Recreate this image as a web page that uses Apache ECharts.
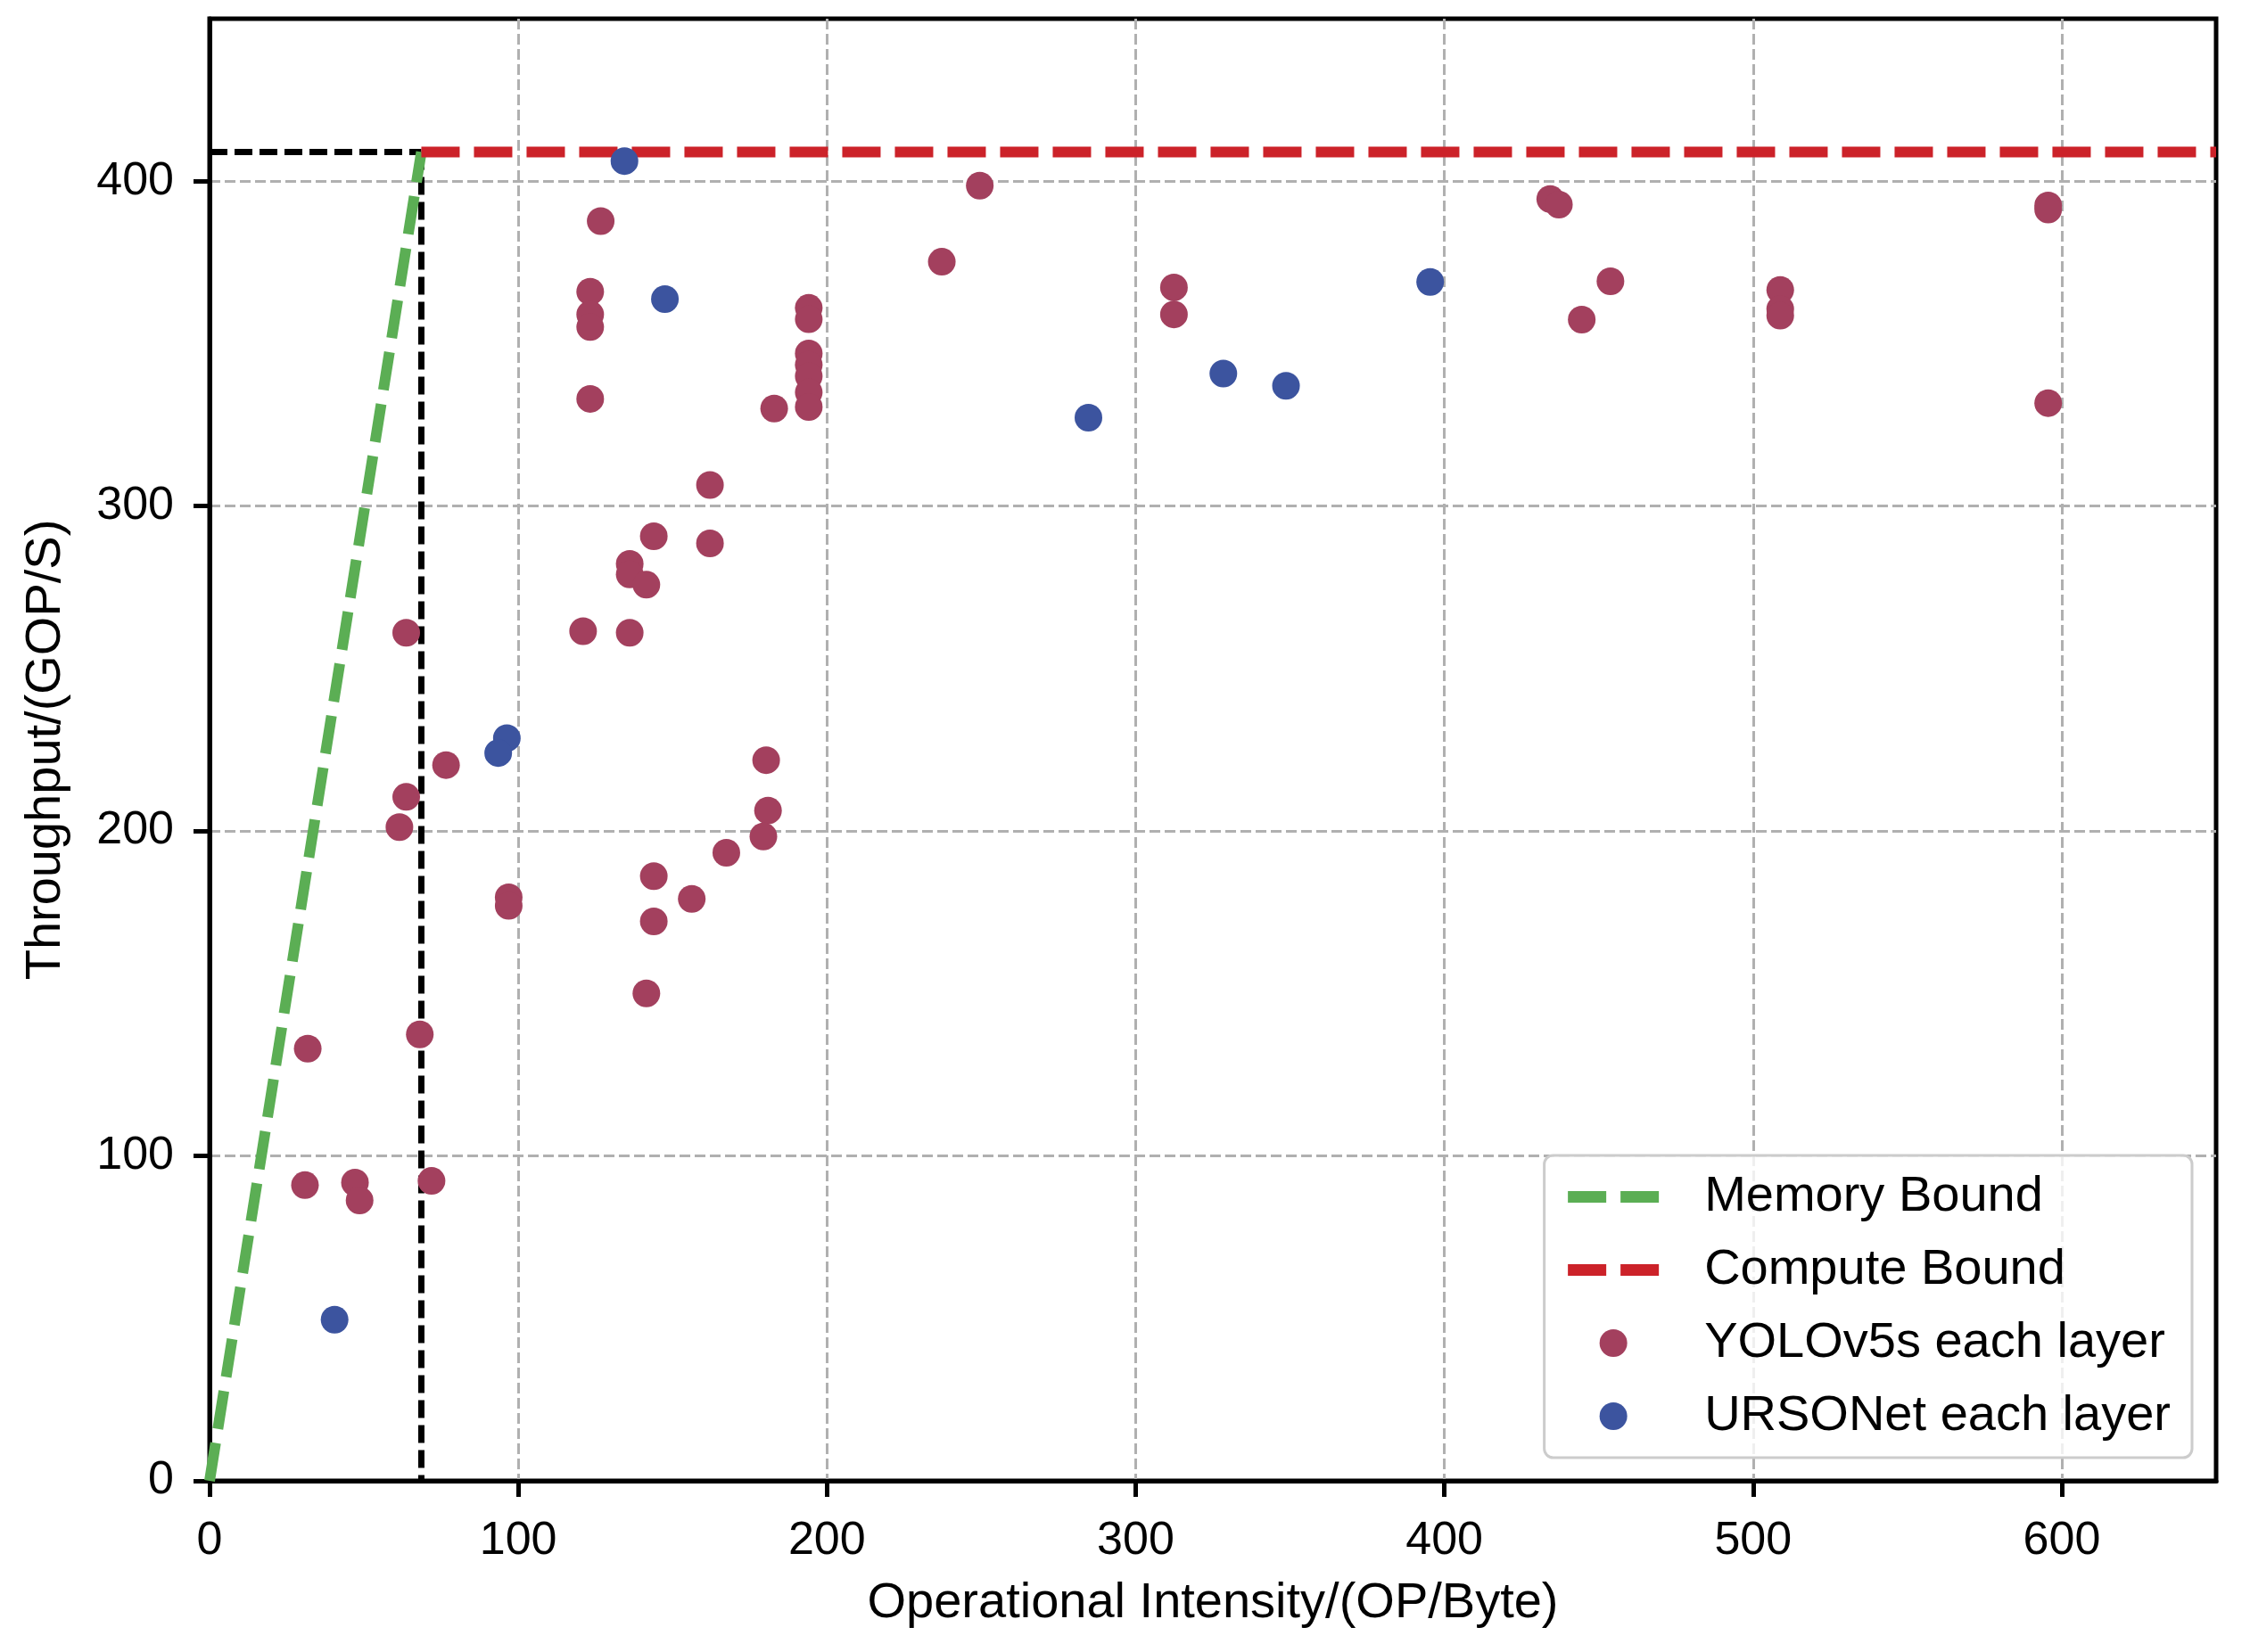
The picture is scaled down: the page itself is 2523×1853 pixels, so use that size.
<!DOCTYPE html>
<html lang="en">
<head>
<meta charset="UTF-8">
<title>Roofline</title>
<style>html,body{margin:0;padding:0;background:#fff;}</style>
</head>
<body>
<div id="main" style="width:2523px;height:1853px"></div>
<script src="https://cdn.jsdelivr.net/npm/echarts@6.0.0/dist/echarts.min.js"></script>
<script>
// roofline: ridge point and peak throughput
var ridgeX = 68.6;
var peakY = 409;
var xMax = 650;
var memoryBound = [[0, 0], [ridgeX, peakY]];
var computeBound = [[ridgeX, peakY], [xMax, peakY]];
var ridgeH = [[0, peakY], [ridgeX, peakY]];
var ridgeV = [[ridgeX, peakY], [ridgeX, 0]];

var xTicks = [0, 100, 200, 300, 400, 500, 600];
var yTicks = [0, 100, 200, 300, 400];

// YOLOv5s each layer [OP/Byte, GOP/S]
var yoloPoints = [
    [126.7, 387.7], [123.3, 366], [123.3, 359], [123.3, 355.1], [123.3, 333],
    [194.1, 361], [194.1, 357.5], [194.1, 347], [194.1, 343.5], [194.1, 340],
    [194.1, 335], [194.1, 330.5], [182.9, 330], [162.1, 306.5], [162.1, 288.5],
    [143.9, 290.7], [136.1, 282.2], [136.1, 279], [141.5, 275.8], [121, 261.5],
    [136.1, 261], [63.7, 261], [76.6, 220.3], [180.3, 221.8], [63.7, 210.5],
    [61.5, 201.2], [180.9, 206.3], [179.4, 198.3], [167.4, 193.3], [143.9, 186.1],
    [156.2, 179.1], [96.9, 179.6], [96.9, 177], [143.9, 172.2], [141.5, 150],
    [31.8, 133], [68.1, 137.4], [30.9, 91], [47.1, 91.8], [48.6, 86.3],
    [71.9, 92.3], [249.5, 398.6], [237.2, 375.2], [312.4, 367.3], [312.4, 359],
    [434.3, 394.5], [437.1, 392.8], [453.8, 369.2], [444.5, 357.4], [508.8, 366.5],
    [508.8, 360.6], [508.8, 358.6], [595.6, 392.5], [595.6, 391.3], [595.6, 331.7]
];

// URSONet each layer [OP/Byte, GOP/S]
var ursoPoints = [
    [134.4, 406.2], [147.5, 363.7], [96.3, 228.6], [93.5, 224], [40.5, 49.6],
    [284.7, 327.2], [328.4, 340.8], [348.7, 337], [395.4, 369]
];

var FONT = "'Liberation Sans', Arial, sans-serif";
var myChart = echarts.init(document.getElementById('main'));

var axisCommon = {
    axisLine: {show: true, lineStyle: {color: '#000', width: 5}},
    axisTick: {show: true, inside: false, length: 18, lineStyle: {color: '#000', width: 5}},
    splitLine: {show: true, lineStyle: {color: '#b0b0b0', width: 3, type: [12, 5]}},
    nameTextStyle: {color: '#000', fontSize: 56, fontFamily: FONT},
    nameLocation: 'middle'
};

var option = {
    backgroundColor: '#fff',
    animation: false,
    grid: {
        left: 235, right: 38, top: 21, bottom: 192,
        show: true, borderColor: '#000', borderWidth: 5, backgroundColor: 'transparent'
    },
    legend: {
        orient: 'vertical',
        right: 65,
        bottom: 218,
        padding: [16, 24, 16, 20],
        itemWidth: 102,
        itemHeight: 31,
        itemGap: 21,
        backgroundColor: 'rgba(255,255,255,0.8)',
        borderColor: '#cccccc',
        borderWidth: 3,
        borderRadius: 10,
        lineStyle: {width: 13, type: 'inherit', cap: 'butt'},
        textStyle: {
            color: '#000', fontSize: 56, fontFamily: FONT, lineHeight: 61,
            padding: [0, 0, 0, 46]
        },
        data: [
            {name: 'Memory Bound', itemStyle: {opacity: 0}},
            {name: 'Compute Bound', itemStyle: {opacity: 0}},
            {name: 'YOLOv5s each layer', icon: 'circle'},
            {name: 'URSONet each layer', icon: 'circle'}
        ]
    },
    xAxis: Object.assign({}, axisCommon, {
        type: 'value',
        min: 0, max: xMax, interval: 100,
        name: 'Operational Intensity/(OP/Byte)',
        nameGap: 110,
        axisLabel: {
            color: '#000', fontSize: 52, fontFamily: FONT, margin: 42,
            customValues: xTicks
        },
        axisTick: Object.assign({}, axisCommon.axisTick, {customValues: xTicks})
    }),
    yAxis: Object.assign({}, axisCommon, {
        type: 'value',
        min: 0, max: 450, interval: 100,
        name: 'Throughput/(GOP/S)',
        nameGap: 155,
        axisLabel: {
            color: '#000', fontSize: 52, fontFamily: FONT, margin: 40,
            customValues: yTicks
        },
        axisTick: Object.assign({}, axisCommon.axisTick, {customValues: yTicks})
    }),
    series: [
        {
            name: 'Memory Bound', type: 'line', data: memoryBound,
            symbol: 'none', z: 3,
            lineStyle: {color: '#5bae54', width: 12, type: [43, 16]},
            itemStyle: {color: '#5bae54'}
        },
        {
            name: 'Compute Bound', type: 'line', data: computeBound,
            symbol: 'none', z: 3,
            lineStyle: {color: '#cc2229', width: 12, type: [43, 16]},
            itemStyle: {color: '#cc2229'}
        },
        {
            name: 'ridgeH', type: 'line', data: ridgeH,
            symbol: 'none', z: 2,
            lineStyle: {color: '#000', width: 7, type: [20, 8]}
        },
        {
            name: 'ridgeV', type: 'line', data: ridgeV,
            symbol: 'none', z: 2,
            lineStyle: {color: '#000', width: 7, type: [20, 8]}
        },
        {
            name: 'YOLOv5s each layer', type: 'scatter', data: yoloPoints,
            symbol: 'circle', symbolSize: 31, z: 4,
            itemStyle: {color: '#a3405e', opacity: 1}
        },
        {
            name: 'URSONet each layer', type: 'scatter', data: ursoPoints,
            symbol: 'circle', symbolSize: 31, z: 5,
            itemStyle: {color: '#3c549f', opacity: 1}
        }
    ]
};
myChart.setOption(option);
</script>
</body>
</html>
